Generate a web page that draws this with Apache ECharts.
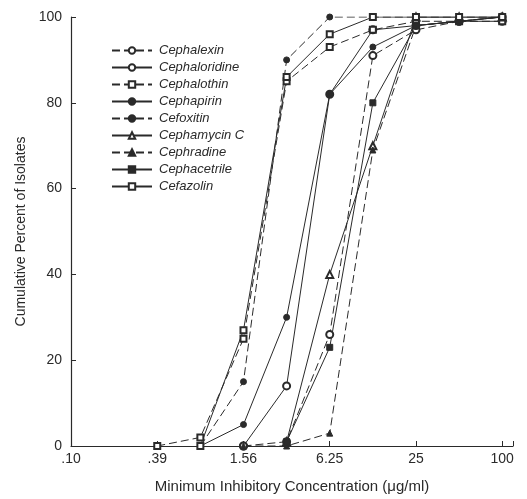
<!DOCTYPE html>
<html>
<head>
<meta charset="utf-8">
<script src="https://cdn.jsdelivr.net/npm/echarts@6/dist/echarts.min.js"></script>
<style>
  html, body { margin: 0; padding: 0; background: #fff; }
  #chart { width: 527px; height: 499px; }
</style>
</head>
<body>
<div id="chart"></div>
<script>
// dilution steps (two-fold), tick labels only on every other step
const doses = [".10", ".20", ".39", ".78", "1.56", "3.12", "6.25", "12.5", "25", "50", "100"];
const tickLabels = [".10", ".39", "1.56", "6.25", "25", "100"];

// cumulative percent of isolates, one value per dilution step (null = not plotted)
const cephalexin    = [null, null, null, null, 0, 1, 26, 91, 97, 99, 100];
const cephaloridine = [null, null, null, null, 0, 14, 82, 97, 98, 99, 99];
const cephalothin   = [null, null, 0, 2, 25, 85, 93, 97, 99, 99, 99];
const cephapirin    = [null, null, null, 0, 5, 30, 82, 93, 98, 99, 100];
const cefoxitin     = [null, null, null, 0, 15, 90, 100, 100, 100, 100, 100];
const cephamycinC   = [null, null, null, null, null, 1, 40, 70, 100, 100, 100];
const cephradine    = [null, null, null, null, 0, 0, 3, 69, 98, 99, 100];
const cephacetrile  = [null, null, null, null, null, 1, 23, 80, 98, 99, 100];
const cefazolin     = [null, null, null, 0, 27, 86, 96, 100, 100, 100, 100];

const ink = "#2a2a2a";

// [step index, percent] pairs for the value axis
function pts(arr) {
  let out = [];
  arr.forEach((v, i) => {
    if (v !== null) out.push([i, v]);
  });
  return out;
}

function line(name, arr, symbol, size, dashed) {
  return {
    name: name,
    type: "line",
    data: pts(arr),
    symbol: symbol,
    symbolSize: size,
    showAllSymbol: true,
    lineStyle: { color: ink, width: 1, type: dashed ? [8, 4] : "solid" },
    itemStyle: { color: ink, borderColor: ink, borderWidth: 1 },
    emphasis: { disabled: true },
    animation: false
  };
}

let chart = echarts.init(document.getElementById("chart"));
chart.setOption({
  textStyle: { fontFamily: "Liberation Sans, Arial, sans-serif" },
  grid: { left: 71, right: 14, top: 17, bottom: 51 },
  legend: {
    orient: "vertical",
    left: 106,
    top: 39,
    itemWidth: 40,
    itemHeight: 8,
    itemGap: 4,
    textStyle: { fontSize: 13, fontStyle: "italic", color: ink, padding: [0, 0, 0, 2] },
    data: ["Cephalexin", "Cephaloridine", "Cephalothin", "Cephapirin", "Cefoxitin",
      "Cephamycin C", "Cephradine", "Cephacetrile", "Cefazolin"]
  },
  xAxis: {
    type: "value",
    min: 0,
    max: 10.25,
    interval: 2,
    name: "Minimum Inhibitory Concentration (\u03bcg/ml)",
    nameLocation: "middle",
    nameGap: 33,
    nameTextStyle: { fontSize: 15, color: ink },
    splitLine: { show: false },
    axisLine: { lineStyle: { color: ink, width: 1.2 } },
    axisTick: { inside: true, length: 5, lineStyle: { color: ink } },
    axisLabel: {
      fontSize: 14,
      color: ink,
      margin: 6,
      formatter: v => (Number.isInteger(v) && v % 2 === 0 ? tickLabels[v / 2] : "")
    }
  },
  yAxis: {
    type: "value",
    min: 0,
    max: 100,
    interval: 20,
    name: "Cumulative Percent of Isolates",
    nameLocation: "middle",
    nameGap: 42,
    nameTextStyle: { fontSize: 14, color: ink },
    splitLine: { show: false },
    axisLine: { show: true, lineStyle: { color: ink, width: 1.2 } },
    axisTick: { show: true, inside: true, length: 5, lineStyle: { color: ink } },
    axisLabel: { fontSize: 14, color: ink, margin: 9 }
  },
  series: [
    line("Cephalexin", cephalexin, "emptyCircle", 7, true),
    line("Cephaloridine", cephaloridine, "emptyCircle", 7, false),
    line("Cephalothin", cephalothin, "emptyRect", 6, true),
    line("Cephapirin", cephapirin, "circle", 6, false),
    line("Cefoxitin", cefoxitin, "circle", 6, true),
    line("Cephamycin C", cephamycinC, "emptyTriangle", 7, false),
    line("Cephradine", cephradine, "triangle", 6, true),
    line("Cephacetrile", cephacetrile, "rect", 6, false),
    line("Cefazolin", cefazolin, "emptyRect", 6, false)
  ]
});
</script>
</body>
</html>
